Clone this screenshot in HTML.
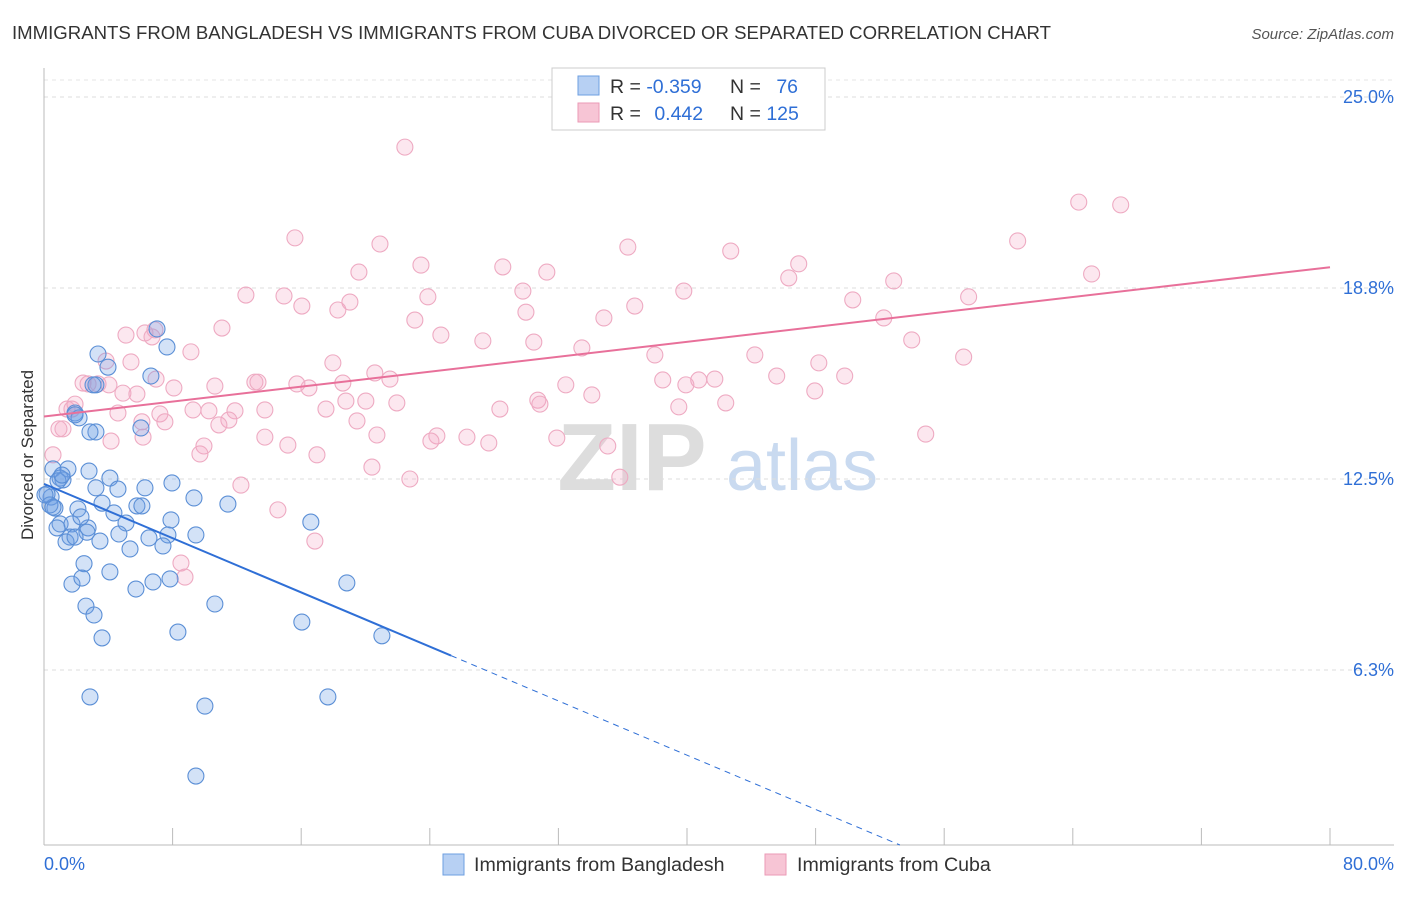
<!DOCTYPE html>
<html><head><meta charset="utf-8"><style>
body{margin:0;background:#fff;font-family:"Liberation Sans",sans-serif}
svg text{font-family:"Liberation Sans",sans-serif}
</style></head><body>
<svg id="chart" width="1406" height="892" viewBox="0 0 1406 892">
<text x="12" y="39" font-size="18.6" fill="#333">IMMIGRANTS FROM BANGLADESH VS IMMIGRANTS FROM CUBA DIVORCED OR SEPARATED CORRELATION CHART</text>
<text x="1394" y="39" font-size="15" fill="#555" text-anchor="end" font-style="italic">Source: ZipAtlas.com</text>
<g>
<text x="632" y="490" font-size="96" fill="#ddd" font-family="Liberation Serif" text-anchor="middle" font-weight="bold">ZIP</text>
<text x="802" y="490" font-size="72" fill="#c9daf0" text-anchor="middle">atlas</text>
</g>
<g id="grid"></g>
<g id="axes"></g>
<g id="pts"></g>
<g id="trend"></g>
<g>
<rect x="552" y="68" width="273" height="62" fill="#fff" stroke="#ccc"/>
<rect x="578" y="76" width="21" height="19" fill="#b7d0f3" stroke="#6e9fe0"/>
<rect x="578" y="103" width="21" height="19" fill="#f7c5d5" stroke="#eb9ab6"/>
<text x="610" y="93" font-size="19.5" fill="#333">R = <tspan fill="#2f6fd6">-0.359</tspan></text>
<text x="730" y="93" font-size="19.5" fill="#333">N = <tspan fill="#2f6fd6" dx="10">76</tspan></text>
<text x="610" y="120" font-size="19.5" fill="#333">R = <tspan fill="#2f6fd6" dx="8">0.442</tspan></text>
<text x="730" y="120" font-size="19.5" fill="#333">N = <tspan fill="#2f6fd6">125</tspan></text>
</g>
<g>
<rect x="443" y="854" width="21" height="21" fill="#b7d0f3" stroke="#6e9fe0"/>
<text x="474" y="871" font-size="19.6" fill="#333">Immigrants from Bangladesh</text>
<rect x="765" y="854" width="21" height="21" fill="#f7c5d5" stroke="#eb9ab6"/>
<text x="797" y="871" font-size="19.6" fill="#333">Immigrants from Cuba</text>
</g>
<text transform="translate(33,455) rotate(-90)" font-size="17" fill="#333" text-anchor="middle">Divorced or Separated</text>
</svg>
<script>
const blueX=[7.03,3.36,7.65,3.98,6.65,3.23,3.05,1.93,2.18,6.03,3.23,2.86,0.56,1.49,2.80,1.00,1.18,4.10,3.23,4.60,6.28,7.96,9.33,11.44,0.44,0.68,2.11,3.61,4.35,5.78,6.09,1.00,1.74,2.74,2.30,5.10,7.90,16.60,0.81,1.62,2.67,4.66,6.53,7.71,9.45,1.37,1.93,3.48,5.35,7.40,2.49,4.10,1.74,2.36,6.78,7.84,18.84,5.72,2.61,10.63,3.11,16.04,8.33,3.61,21.02,2.86,17.66,10.01,9.45,0.19,0.37,0.56,0.06,0.87,1.12,1.93];
const blueY=[17.41,16.59,16.82,16.16,15.87,15.58,15.58,14.66,14.50,14.17,14.04,14.04,12.83,12.83,12.76,12.53,12.47,12.53,12.21,12.17,12.21,12.37,11.88,11.68,11.91,11.55,11.52,11.71,11.39,11.62,11.62,11.03,11.03,10.90,11.26,11.06,11.16,11.09,10.90,10.60,10.76,10.70,10.57,10.67,10.67,10.44,10.60,10.47,10.21,10.31,9.73,9.46,9.06,9.26,9.13,9.23,9.10,8.90,8.34,8.41,8.05,7.82,7.49,7.30,7.37,5.37,5.37,5.07,2.78,12.01,11.65,11.58,11.98,12.44,12.63,14.60];
const pinkX=[22.45,64.37,66.98,15.61,20.90,36.32,60.57,42.72,23.45,28.54,31.28,19.59,46.95,65.17,46.33,12.56,29.79,39.80,14.93,19.03,16.04,18.28,23.88,52.86,50.31,57.52,23.07,29.98,34.83,36.75,52.24,11.07,5.10,6.28,6.90,6.72,24.69,27.30,30.47,33.46,53.98,9.14,3.86,5.41,17.97,38.00,44.22,57.21,48.20,20.58,21.52,6.97,2.43,3.36,4.04,8.08,13.12,13.31,15.73,18.59,10.63,16.48,38.49,40.73,41.73,45.58,49.81,32.46,4.91,5.78,34.08,39.93,47.95,1.74,1.43,1.93,4.60,7.21,9.27,10.26,11.88,13.74,17.54,18.78,20.02,21.95,28.36,30.72,30.85,42.41,39.49,1.18,0.93,7.52,11.50,10.88,19.47,24.44,24.07,26.31,27.67,31.90,35.07,4.17,6.16,9.95,13.74,15.17,20.71,54.85,0.56,9.70,16.98,20.40,22.76,35.82,12.25,14.55,16.85,8.52,8.77,6.09,2.74];
const pinkY=[23.36,21.56,21.47,20.39,20.19,20.09,20.29,19.96,19.50,19.44,19.27,19.27,19.54,19.21,19.08,18.52,18.65,18.65,18.49,18.29,18.16,18.03,18.46,18.98,18.36,18.46,17.70,17.96,17.77,18.16,17.77,17.44,17.21,17.28,17.38,17.15,17.21,17.02,16.98,16.79,17.05,16.66,16.36,16.33,16.30,16.56,16.56,16.49,16.30,15.97,15.77,15.77,15.64,15.61,15.58,15.48,15.67,15.67,15.61,15.64,15.54,15.48,15.74,15.74,15.77,15.87,15.87,15.58,15.31,15.28,15.25,15.58,15.38,14.79,14.79,14.95,14.66,14.63,14.76,14.73,14.73,14.76,14.79,15.05,15.05,14.99,14.79,15.08,14.95,14.99,14.86,14.14,14.14,14.37,14.43,14.27,14.40,13.91,13.74,13.87,13.68,13.84,13.58,13.74,13.87,13.58,13.87,13.61,13.94,13.97,13.29,13.32,13.29,12.89,12.50,12.56,12.30,11.49,10.47,9.75,9.29,14.37,15.61];
const yTicks=[25,18.75,12.5,6.25];
const yTickLabels=["25.0%","18.8%","12.5%","6.3%"];
const xTicks=[0,8,16,24,32,40,48,56,64,72,80];
const NS="http://www.w3.org/2000/svg";
const X0=44,X1=1330,YTOP=97,PXPER=30.56,YBOT=845;
function sx(v){return X0+(X1-X0)*v/80;}
function sy(v){return YTOP+(25-v)*PXPER;}
function mk(tag,attrs,parent){const e=document.createElementNS(NS,tag);for(const k in attrs)e.setAttribute(k,attrs[k]);document.getElementById(parent).appendChild(e);return e;}
yTicks.forEach((t,i)=>{
 const g=mk('line',{x1:X0,x2:1394,y1:sy(t),y2:sy(t),stroke:'#ddd','stroke-dasharray':'4,4'},'grid');
 
 
 const l=mk('text',{x:1394,y:sy(t)+6,'font-size':18,fill:'#2f6fd6','text-anchor':'end'},'axes');
 l.textContent=yTickLabels[i];
 
 
});
const tl=mk('line',{x1:X0,x2:1394,y1:80,y2:80,stroke:'#e4e4e4','stroke-dasharray':'4,4'},'grid');


const ya=mk('line',{x1:X0,x2:X0,y1:68,y2:YBOT,stroke:'#bbb'},'axes');


const xa=mk('line',{x1:X0,x2:1394,y1:YBOT,y2:YBOT,stroke:'#bbb'},'axes');


xTicks.forEach(t=>{
 const k=mk('line',{x1:sx(t),x2:sx(t),y1:828,y2:YBOT,stroke:'#bbb'},'axes');
 
 
});
const xl0=mk('text',{x:44,y:870,'font-size':18,fill:'#2f6fd6'},'axes');xl0.textContent='0.0%';


const xl1=mk('text',{x:1394,y:870,'font-size':18,fill:'#2f6fd6','text-anchor':'end'},'axes');xl1.textContent='80.0%';


function drawPts(xs,ys,fill,stroke,name){
 xs.forEach((v,i)=>{
  const c=mk('circle',{cx:sx(v),cy:sy(ys[i]),r:8,fill:fill,stroke:stroke,'stroke-width':1.1},'pts');
  
  
 });
}
drawPts(pinkX,pinkY,'rgba(244,170,196,0.28)','#eeaac2','point-cuba');
drawPts(blueX,blueY,'rgba(110,160,230,0.3)','#5b8fd6','point-bangladesh');
function reg(xs,ys){const n=xs.length;let mx=0,my=0;for(let i=0;i<n;i++){mx+=xs[i];my+=ys[i];}mx/=n;my/=n;let a=0,b=0;for(let i=0;i<n;i++){a+=(xs[i]-mx)*(ys[i]-my);b+=(xs[i]-mx)**2;}const s=a/b;return [s,my-s*mx];}
const [bs,bi]=reg(blueX,blueY);
const bMax=Math.max(...blueX)+4.3;
const l1=mk('line',{x1:sx(0),y1:sy(bi),x2:sx(bMax),y2:sy(bi+bs*bMax),stroke:'#2f6fd6','stroke-width':2},'trend');


const yEnd=25-(YBOT-YTOP)/PXPER;const xEnd=(yEnd-bi)/bs;
const l2=mk('line',{x1:sx(bMax),y1:sy(bi+bs*bMax),x2:sx(xEnd),y2:YBOT,stroke:'#2f6fd6','stroke-width':1,'stroke-dasharray':'6,5'},'trend');


const [ps,pi]=reg(pinkX,pinkY);
const l3=mk('line',{x1:sx(0),y1:sy(pi),x2:sx(80),y2:sy(pi+ps*80),stroke:'#e8709a','stroke-width':2},'trend');


</script>
</body></html>
